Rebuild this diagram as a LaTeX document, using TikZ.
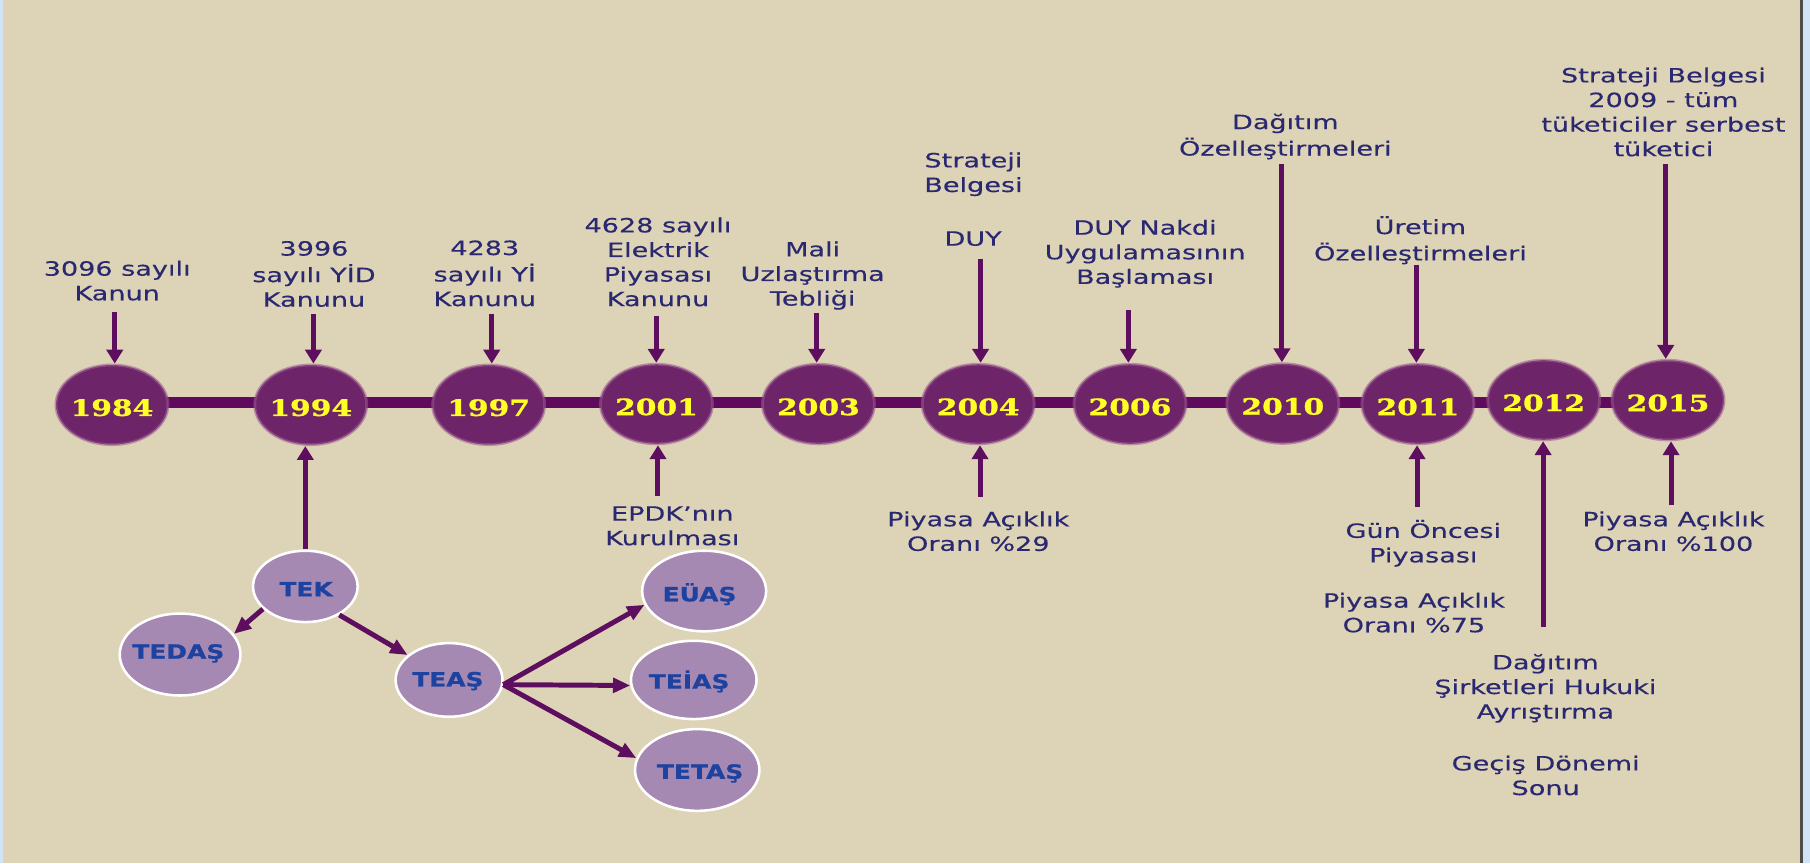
\documentclass[tikz,border=0pt]{standalone}
\usepackage{fontspec}
\setmainfont{DejaVu Sans}[FakeStretch=1.38, FakeBold=0.3]
\newfontfamily\yearfont{DejaVu Serif}[FakeStretch=1.32, BoldFeatures={FakeBold=1.3}]
\newfontfamily\treefont{DejaVu Sans}[FakeStretch=1.27, BoldFeatures={FakeBold=0.8}]
\usetikzlibrary{arrows.meta,shapes.geometric}
\definecolor{bgtan}{HTML}{DDD3B6}
\definecolor{edgeblue}{HTML}{D3E3F6}
\definecolor{yearfill}{HTML}{6E2468}
\definecolor{yearrim}{HTML}{9A5A92}
\definecolor{barcol}{HTML}{5F0A5C}
\definecolor{arrcol}{HTML}{5E0E5E}
\definecolor{txtcol}{HTML}{2A2870}
\definecolor{lilac}{HTML}{A589B2}
\definecolor{treetxt}{HTML}{1D42A0}
\definecolor{yeartxt}{HTML}{FFFF26}
\begin{document}
\begin{tikzpicture}[x=1pt,y=-1pt,
  lab/.style={align=center, anchor=north, inner sep=0pt, text=txtcol,
    font=\fontsize{17}{21.3}\selectfont},
  yc/.style={ellipse, minimum width=97pt, minimum height=69pt, inner sep=0pt,
    fill=yearfill, draw=yearrim, line width=2.5pt, draw opacity=0.55},
  yt/.style={inner sep=0pt, text=yeartxt, yshift=-2.5pt,
    font=\yearfont\bfseries\fontsize{19.5}{19.5}\selectfont},
  tn/.style={ellipse, inner sep=0pt, fill=lilac, draw=white, line width=2.2pt},
  tt/.style={inner sep=0pt, text=treetxt,
    font=\treefont\bfseries\fontsize{17}{17}\selectfont},
  arr/.style={draw=arrcol, line width=4.3pt, -{Triangle[length=12pt,width=14pt]}},
  tarr/.style={draw=arrcol, line width=4.3pt, -{Triangle[length=15pt,width=12.5pt]}},
  bar/.style={draw=barcol, line width=10pt}
]
% background and frame strips
\fill[bgtan] (0,0) rectangle (1568,748);
\fill[edgeblue] (0,0) rectangle (2.6,748);
\fill[edgeblue] (1560,0) rectangle (1568,748);
\fill[black!70] (1559.6,0) rectangle (1562.2,748);
\useasboundingbox (0,0) rectangle (1568,748);

% timeline bar
\coordinate (barL) at (97,348.5);
\coordinate (barR) at (1445,348.5);
\draw[bar] (barL) -- (barR);

% year circles
\node[yc] (c84) at (97,350.7) {};
\node[yc] (c94) at (269.2,350.7) {};
\node[yc] (c97) at (423.3,350.7) {};
\node[yc] (c01) at (568.7,350) {};
\node[yc] (c03) at (709,350) {};
\node[yc] (c04) at (847.4,350) {};
\node[yc] (c06) at (978.9,350) {};
\node[yc] (c10) at (1111.3,349.6) {};
\node[yc] (c11) at (1228.3,350) {};
\node[yc] (c12) at (1337.3,346.5) {};
\node[yc] (c15) at (1445,346.6) {};
\node[yt] (y84) at (c84) {1984};
\node[yt] (y94) at (c94) {1994};
\node[yt] (y97) at (c97) {1997};
\node[yt] (y01) at (c01) {2001};
\node[yt] (y03) at (c03) {2003};
\node[yt] (y04) at (c04) {2004};
\node[yt] (y06) at (c06) {2006};
\node[yt] (y10) at (c10) {2010};
\node[yt] (y11) at (c11) {2011};
\node[yt] (y12) at (c12) {2012};
\node[yt] (y15) at (c15) {2015};

% labels above
\node[lab] (L84) at (101.5,223.7) {\strut 3096 sayılı\\Kanun};
\node[lab] (L94) at (272,206.3) {\strut 3996\\sayılı YİD\\Kanunu};
\node[lab] (L97) at (420,205.8) {\strut 4283\\sayılı Yİ\\Kanunu};
\node[lab] (L01) at (570,186.2) {\strut 4628 sayılı\\Elektrik\\Piyasası\\Kanunu};
\node[lab] (L03) at (704,207) {\strut Mali\\Uzlaştırma\\Tebliği};
\node[lab] (L04a) at (843.3,129.9) {\strut Strateji\\Belgesi};
\node[lab] (L04) at (843,197.7) {\strut DUY};
\node[lab] (L06) at (992,188.2) {\strut DUY Nakdi\\Uygulamasının\\Başlaması};
\node[lab] (L10) at (1113.5,96.7) {\strut Dağıtım\\Özelleştirmeleri};
\node[lab] (L11) at (1230.5,187) {\strut Üretim\\Özelleştirmeleri};
\node[lab] (L15) at (1441,56.3) {\strut Strateji Belgesi\\2009 - tüm\\tüketiciler serbest\\tüketici};

% labels below
\node[lab] (L01b) at (582.4,435.9) {\strut EPDK’nın\\Kurulması};
\node[lab] (L04b) at (847.5,440.8) {\strut Piyasa Açıklık\\Oranı \%29};
\node[lab] (L11b) at (1233,450.2) {\strut Gün Öncesi\\Piyasası};
\node[lab] (L11c) at (1224.9,511.3) {\strut Piyasa Açıklık\\Oranı \%75};
\node[lab] (L12a) at (1338.8,564.8) {\strut Dağıtım\\Şirketleri Hukuki\\Ayrıştırma};
\node[lab] (L12b) at (1339,652.3) {\strut Geçiş Dönemi\\Sonu};
\node[lab] (L15b) at (1449.7,440.8) {\strut Piyasa Açıklık\\Oranı \%100};

% arrow tails (free ends)
\coordinate (t84) at (99.4,270);
\coordinate (t94) at (271.5,272);
\coordinate (t97) at (426,272);
\coordinate (t01) at (568.5,274);
\coordinate (t03) at (707.5,271);
\coordinate (t04) at (849.5,224.6);
\coordinate (t06) at (977.5,268.5);
\coordinate (t10) at (1110.5,142);
\coordinate (t11) at (1227,229.5);
\coordinate (t15) at (1443,142);
\coordinate (b01) at (570,430);
\coordinate (b04) at (849,430.7);
\coordinate (b11) at (1227.6,438.8);
\coordinate (b12) at (1336.8,543.3);
\coordinate (b15) at (1447.6,437.3);

% downward arrows
\draw[arr] (t84) -- (t84 |- c84.north);
\draw[arr] (t94) -- (t94 |- c94.north);
\draw[arr] (t97) -- (t97 |- c97.north);
\draw[arr] (t01) -- (t01 |- c01.north);
\draw[arr] (t03) -- (t03 |- c03.north);
\draw[arr] (t04) -- (t04 |- c04.north);
\draw[arr] (t06) -- (t06 |- c06.north);
\draw[arr] (t10) -- (t10 |- c10.north);
\draw[arr] (t11) -- (t11 |- c11.north);
\draw[arr] (t15) -- (t15 |- c15.north);

% upward arrows
\draw[arr] (b01) -- (b01 |- c01.south);
\draw[arr] (b04) -- (b04 |- c04.south);
\draw[arr] (b11) -- (b11 |- c11.south);
\draw[arr] (b12) -- (b12 |- c12.south);
\draw[arr] (b15) -- (b15 |- c15.south);

% organisation tree
\node[tn, minimum width=90.6pt, minimum height=61.8pt] (TEK) at (264.5,508) {};
\node[tn, minimum width=104.6pt, minimum height=71pt] (TEDAS) at (156,567) {};
\node[tn, minimum width=92.6pt, minimum height=63.8pt] (TEAS) at (389,589) {};
\node[tn, minimum width=107.4pt, minimum height=69.8pt] (EUAS) at (610,512) {};
\node[tn, minimum width=108.8pt, minimum height=67.8pt] (TEIAS) at (601,589) {};
\node[tn, minimum width=107.8pt, minimum height=70.8pt] (TETAS) at (604,667) {};
\node[tt] (tTEK) at (265.2,510.4) {TEK};
\node[tt] (tTEDAS) at (154.5,566) {TEDAŞ};
\node[tt] (tTEAS) at (388,590) {TEAŞ};
\node[tt] (tEUAS) at (606,514.7) {EÜAŞ};
\node[tt] (tTEIAS) at (597,590.3) {TEİAŞ};
\node[tt] (tTETAS) at (606.5,670) {TETAŞ};

\draw[arr] (TEK.north) -- (TEK.north |- c94.south);
\draw[tarr] (TEK.208) -- (TEDAS.21);
\draw[tarr] (TEK.320) -- (TEAS.149);
\draw[tarr] (TEAS.355) -- (EUAS.193);
\draw[tarr] (TEAS.355) -- (TEIAS.185);
\draw[tarr] (TEAS.355) -- (TETAS.169);
\end{tikzpicture}
\end{document}
